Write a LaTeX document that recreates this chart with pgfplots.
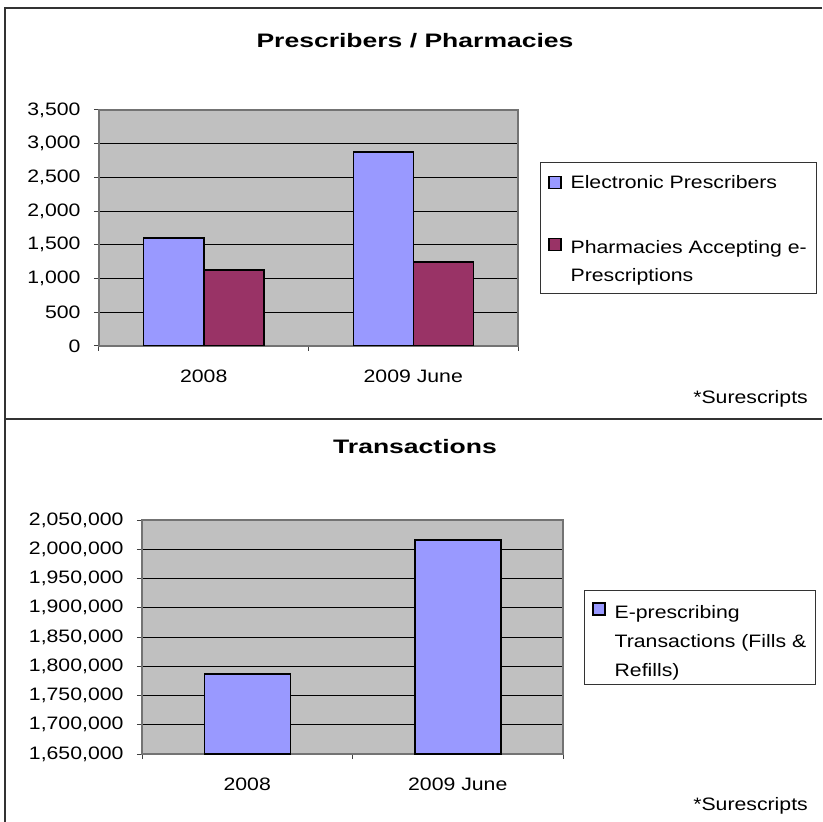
\documentclass[border=0pt]{standalone}
\usepackage{pgfplots}
\pgfplotsset{compat=1.18}
\usepackage{fontspec}
\setmainfont[FakeStretch=1.18]{Liberation Sans}
\newfontfamily\titlefont[FakeStretch=1.36]{Liberation Sans}
\definecolor{barblue}{HTML}{9999FF}
\definecolor{barred}{HTML}{993366}
\definecolor{plotgray}{HTML}{C0C0C0}
\pgfplotsset{
  excel/.style={
    scale only axis,
    ybar,
    xmin=-0.5, xmax=1.5,
    xtick={-0.5,0.5,1.5},
    x tick label as interval,
    xticklabels={2008,2009 June},
    xtick pos=bottom, ytick pos=left,
    tick align=outside,
    major tick length=5pt,
    tick style={black!75, line width=1pt},
    axis line style={black!55, line width=1.3pt},
    axis background/.style={fill=plotgray},
    ymajorgrids,
    major grid style={black, line width=0.8pt},
    tick label style={font=\fontsize{18}{20}\selectfont},
    xticklabel style={yshift=-15pt},
    yticklabel style={xshift=-10pt},
    scaled y ticks=false,
    /pgf/number format/.cd, fixed, precision=0, 1000 sep={,}, assume math mode=true,
    /pgfplots/.cd,
    every axis plot/.append style={draw=black, line width=1.5pt},
    every axis plot post/.append style={
      legend image code/.code={\draw[##1, line width=1.3pt] (0pt,-6pt) rectangle (12pt,6pt); \path (19pt,0pt);}},
    legend cell align=left,
  }
}
\begin{document}
\begin{tikzpicture}[x=1pt,y=1pt]
\path[use as bounding box] (0,0) rectangle (822,822);
\draw[black!80, line width=2pt] (5,0) -- (5,814) -- (822,814);
\draw[black!80, line width=2pt] (5,403) -- (822,403);

\node[anchor=base, inner sep=0, font=\titlefont\bfseries\fontsize{19.5}{22}\selectfont] at (415,774) {Prescribers / Pharmacies};
\node[anchor=base east, inner sep=0, font=\fontsize{18}{20}\selectfont] at (808,418) {*Surescripts};
\node[anchor=base, inner sep=0, font=\titlefont\bfseries\fontsize{19.5}{22}\selectfont] at (415,368) {Transactions};
\node[anchor=base east, inner sep=0, font=\fontsize{18}{20}\selectfont] at (808,12) {*Surescripts};

% legend frames
\draw[black!80, line width=0.9pt] (540,660) rectangle (816,529);
\draw[black!80, line width=0.9pt] (584,232) rectangle (815,138);

\begin{axis}[excel,
  at={(99pt,476pt)}, anchor=south west,
  width=419pt, height=236pt,
  ymin=0, ymax=3500, ytick distance=500,
  bar width=60pt, ybar=0pt,
  legend style={at={(1.0525,0.7797)}, anchor=north west, draw=none, fill=none,
    font=\fontsize{18}{28}\selectfont, row sep=40pt, inner xsep=8pt, inner ysep=11pt},
]
\addplot[fill=barblue] coordinates {(0,1605) (1,2875)};
\addlegendentry{Electronic Prescribers}
\addplot[fill=barred] coordinates {(0,1125) (1,1245)};
\addlegendentry{\begin{tabular}[t]{@{}l@{}}Pharmacies Accepting e-\\Prescriptions\end{tabular}}
\end{axis}

\begin{axis}[excel,
  at={(142pt,68pt)}, anchor=south west,
  width=421pt, height=234pt,
  ymin=1650000, ymax=2050000, ytick distance=50000,
  bar width=86pt,
  legend style={at={(1.05,0.7009)}, anchor=north west, draw=none, fill=none,
    font=\fontsize{18}{29}\selectfont, inner xsep=8pt, inner ysep=6pt},
]
\addplot[fill=barblue] coordinates {(0,1787000) (1,2016000)};
\addlegendentry{\begin{tabular}[t]{@{}l@{}}E-prescribing\\Transactions (Fills \&\\Refills)\end{tabular}}
\end{axis}
\end{tikzpicture}
\end{document}
